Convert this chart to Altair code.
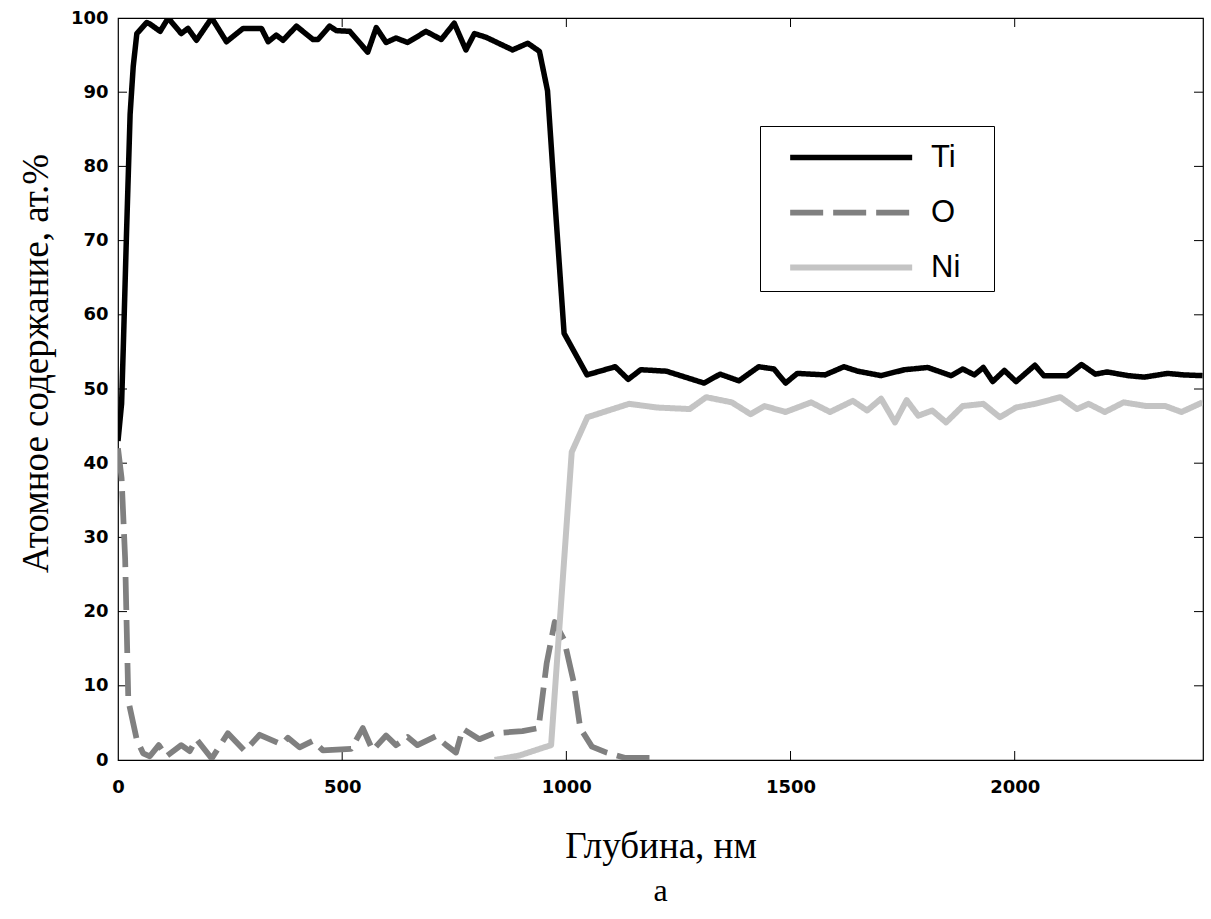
import altair as alt
import pandas as pd

# Ti profile (depth nm, at.%)
ti_x = [0, 8, 12, 19, 27, 34, 42, 64, 71, 94, 112, 141, 156, 175, 209, 242, 279,
        320, 335, 353, 368, 398, 435, 446, 472, 487, 517,
        557, 576, 598, 620, 646, 687, 721, 750, 776, 795,
        821, 880, 914, 940, 958, 976, 995, 1046, 1109, 1138,
        1166, 1223, 1307, 1343, 1385, 1429, 1463, 1489, 1515, 1577,
        1619, 1650, 1702, 1754, 1806, 1858, 1884, 1910, 1930, 1951,
        1977, 2003, 2045, 2065, 2117, 2149, 2180, 2206, 2253, 2289,
        2341, 2377, 2419]
ti_y = [43, 48, 56, 71, 87, 93.5, 97.9, 99.4, 99.2, 98.2, 100, 97.9, 98.6, 97.0, 100, 96.8, 98.6,
        98.6, 96.8, 97.7, 97.0, 98.9, 97.1, 97.1, 98.9, 98.3, 98.2,
        95.4, 98.7, 96.7, 97.3, 96.7, 98.2, 97.1, 99.3, 95.7, 97.9,
        97.4, 95.7, 96.6, 95.5, 90.2, 74, 57.5, 51.9, 53.0, 51.3,
        52.6, 52.4, 50.8, 52.0, 51.1, 53.0, 52.7, 50.8, 52.1, 51.9,
        53.0, 52.4, 51.8, 52.6, 52.9, 51.8, 52.7, 51.9, 52.9, 51.0,
        52.5, 51.0, 53.2, 51.8, 51.8, 53.3, 52.0, 52.3, 51.8, 51.6,
        52.1, 51.9, 51.8]

# O profile
o_x = [0, 8, 16, 23, 42, 56, 71, 91, 108, 141, 160, 175, 209, 245, 283, 316, 365, 379,
       405, 435, 457, 520, 546, 568, 598, 620, 646, 668, 709, 732, 754, 769, 806, 838,
       902, 938, 956, 974, 995, 1016, 1031, 1057, 1090, 1130, 1192]
o_y = [42, 38, 27, 8, 2.7, 0.9, 0.5, 2.0, 0.5, 2.0, 1.2, 2.8, 0.2, 3.6, 1.2, 3.4, 2.1, 3.0,
       1.7, 2.6, 1.3, 1.5, 4.3, 1.3, 3.3, 2.0, 3.1, 2.0, 3.2, 2.0, 1.0, 4.2, 2.8, 3.6,
       3.9, 4.3, 13, 18.6, 16.2, 10.6, 4.3, 1.8, 1.0, 0.3, 0.3]

# Ni profile
ni_x = [840, 895, 935, 966, 1012, 1047, 1140, 1203, 1275, 1312, 1369, 1411, 1442, 1489,
        1546, 1588, 1639, 1671, 1702, 1733, 1759, 1785, 1816, 1847, 1884, 1930, 1967,
        2003, 2045, 2102, 2139, 2165, 2201, 2243, 2294, 2336, 2372, 2419]
ni_y = [0, 0.6, 1.4, 2.0, 41.5, 46.2, 48.0, 47.5, 47.3, 48.9, 48.2, 46.6, 47.7, 46.9,
        48.2, 46.9, 48.4, 47.1, 48.7, 45.5, 48.5, 46.4, 47.1, 45.5, 47.7, 48.0, 46.2,
        47.5, 48.0, 48.9, 47.3, 48.0, 46.9, 48.2, 47.7, 47.7, 46.9, 48.2]

elements = ["Ti", "O", "Ni"]
colors = ["#000000", "#808080", "#c4c4c4"]
dashes = [[1, 0], [33, 10], [1, 0]]
widths = [5.5, 6, 9]

x_ticks = [0, 500, 1000, 1500, 2000]
y_ticks = [0, 10, 20, 30, 40, 50, 60, 70, 80, 90, 100]

rows = []
for name, xs, ys in (("Ti", ti_x, ti_y), ("O", o_x, o_y), ("Ni", ni_x, ni_y)):
    for i, (a, b) in enumerate(zip(xs, ys)):
        rows.append({"el": name, "depth": a, "val": b, "ord": i})
df = pd.DataFrame(rows)

XMAX = 2420
xs = alt.Scale(domain=[0, XMAX], nice=False, zero=False)
ys = alt.Scale(domain=[0, 100], nice=False)

LEG = dict(orient="none", legendX=642, legendY=108,
           title="\u00a0", titleOrient="right", titlePadding=26, titleFontSize=10,
           symbolType="M-1,0H5", symbolSize=1654,
           labelFont="Liberation Sans", labelFontSize=31, labelColor="black",
           labelOffset=97, symbolOffset=19, padding=8, rowPadding=16,
           strokeColor="black", fillColor="white")

lines = alt.Chart(df).mark_line(clip=True, strokeCap="butt", strokeJoin="round").encode(
    x=alt.X("depth:Q", scale=xs, axis=alt.Axis(
        values=x_ticks, format="d", grid=False, ticks=False, domain=False,
        labelFont="DejaVu Sans", labelFontWeight="bold", labelFontSize=18,
        labelColor="black", labelPadding=18, labelFlush=False, labelOverlap=False,
        title="Глубина, нм", titleFont="Liberation Serif", titleFontSize=37,
        titleFontWeight="normal", titleColor="black", titleY=86, titleBaseline="middle")),
    y=alt.Y("val:Q", scale=ys, axis=alt.Axis(
        values=y_ticks, format="d", grid=False, ticks=False, domain=False,
        labelFont="DejaVu Sans", labelFontWeight="bold", labelFontSize=18,
        labelColor="black", labelPadding=10, labelFlush=False, labelOverlap=False,
        title="Атомное содержание, ат.%", titleFont="Liberation Serif", titleFontSize=37,
        titleFontWeight="normal", titleColor="black", titleX=-82, titleY=345,
        titleAngle=-90, titleBaseline="middle", titleAlign="center")),
    color=alt.Color("el:N", scale=alt.Scale(domain=elements, range=colors),
                    legend=alt.Legend(**LEG)),
    strokeDash=alt.StrokeDash("el:N", scale=alt.Scale(domain=elements, range=dashes),
                              legend=alt.Legend(**LEG)),
    strokeWidth=alt.StrokeWidth("el:N", scale=alt.Scale(domain=elements, range=widths),
                                legend=alt.Legend(**LEG)),
    order="ord:Q",
)

xt = pd.DataFrame({"depth": x_ticks[1:]})
yt = pd.DataFrame({"val": y_ticks[1:-1]})
H = 742
W = 1085
TL = 9
tick_b = alt.Chart(xt).mark_rule(color="black", strokeWidth=1).encode(
    x=alt.X("depth:Q", scale=xs), y=alt.value(H), y2=alt.value(H - TL))
tick_t = alt.Chart(xt).mark_rule(color="black", strokeWidth=1).encode(
    x=alt.X("depth:Q", scale=xs), y=alt.value(0), y2=alt.value(TL))
tick_l = alt.Chart(yt).mark_rule(color="black", strokeWidth=1).encode(
    y=alt.Y("val:Q", scale=ys), x=alt.value(0), x2=alt.value(TL))
tick_r = alt.Chart(yt).mark_rule(color="black", strokeWidth=1).encode(
    y=alt.Y("val:Q", scale=ys), x=alt.value(W), x2=alt.value(W - TL))

chart = alt.layer(tick_b, tick_t, tick_l, tick_r, lines).properties(
    width=W, height=H,
    autosize=alt.AutoSizeParams(type="none"),
    padding={"left": 118, "top": 18, "right": 8, "bottom": 159},
    title=alt.TitleParams("а", orient="bottom", anchor="middle", font="Liberation Serif",
                          fontSize=32, fontWeight="normal", color="black", offset=12),
).configure(background="white").configure_view(stroke="black", strokeWidth=1.2)

chart.save("out.html", embed_options={"renderer": "svg", "actions": False})
